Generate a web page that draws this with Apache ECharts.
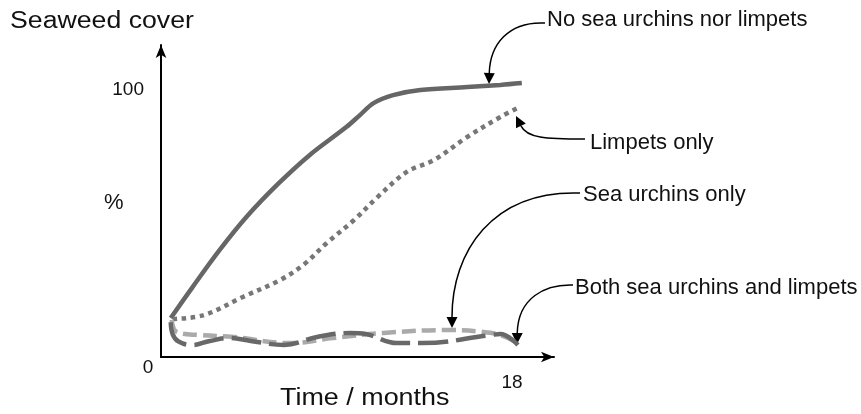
<!DOCTYPE html>
<html>
<head>
<meta charset="utf-8">
<title>Seaweed cover</title>
<script src="https://cdn.jsdelivr.net/npm/echarts@6/dist/echarts.min.js"></script>
<style>
  html, body { margin: 0; padding: 0; background: #fff; }
  #chart { width: 861px; height: 414px; }
</style>
</head>
<body>
<div id="chart"></div>
<script>
// [month, % cover]
const noGrazers = [[0.5, 14.6], [1.6, 26.0], [3.0, 40.0], [4.4, 52.6], [6.0, 64.8], [7.6, 75.5], [9.5, 86.1],
  [10.2, 90.6], [10.9, 95.1], [11.9, 98.1], [13.3, 100.0], [15.7, 101.1], [17.4, 101.9], [18.5, 102.6]];
const limpetsOnly = [[0.6, 14.2], [2.2, 15.7], [4.2, 22.5], [6.1, 28.8], [7.3, 34.5], [8.5, 42.7], [9.9, 51.3],
  [11.1, 59.9], [12.6, 69.3], [14.0, 73.8], [15.7, 82.4], [17.4, 89.9], [18.3, 93.3]];
const urchinsOnly = [[0.55, 13.9], [0.8, 9.4], [2.0, 8.2], [3.7, 7.5], [6.6, 5.2], [8.8, 7.1], [11.4, 9.0],
  [14.8, 10.1], [16.5, 9.4], [17.4, 8.2], [18.3, 5.2]];
const bothGrazers = [[0.5, 13.0], [0.6, 8.5], [0.9, 5.8], [1.6, 4.5], [2.5, 6.0], [3.5, 7.1], [4.6, 6.0], [6.3, 4.5],
  [8.0, 7.5], [9.7, 9.0], [10.5, 8.6], [12.1, 5.2], [13.4, 5.2], [16.9, 8.2], [17.4, 8.6], [18.3, 4.5]];

const xTicks = [18];
const yTicks = [100];
const originLabel = '0';

const seriesNames = ['No sea urchins nor limpets', 'Limpets only', 'Sea urchins only', 'Both sea urchins and limpets'];

const chart = echarts.init(document.getElementById('chart'));
const FONT = 'Liberation Sans, Arial, sans-serif';

// curved annotation arrow: cubic curve + filled head at tip
function arrow(p0, c1, c2, tip) {
  const dx = tip[0] - c2[0], dy = tip[1] - c2[1];
  const len = Math.sqrt(dx * dx + dy * dy);
  const ux = dx / len, uy = dy / len;
  const hl = 11, hw = 5.5;
  const bx = tip[0] - ux * hl, by = tip[1] - uy * hl;
  return [
    {
      type: 'bezierCurve',
      shape: { x1: p0[0], y1: p0[1], cpx1: c1[0], cpy1: c1[1], cpx2: c2[0], cpy2: c2[1], x2: bx, y2: by },
      style: { stroke: '#000', lineWidth: 1.5, fill: null }
    },
    {
      type: 'polygon',
      shape: { points: [tip, [bx - uy * hw, by + ux * hw], [bx + uy * hw, by - ux * hw]] },
      style: { fill: '#000' }
    }
  ];
}

function label(text, x, y, size, scaleX) {
  return {
    type: 'text', x: x, y: y, scaleX: scaleX || 1,
    style: { text: text, x: 0, y: 0, fill: '#111', font: size + 'px ' + FONT, textAlign: 'left', textVerticalAlign: 'middle' }
  };
}

const graphics = [
  label('Seaweed cover', 10, 22, 23, 1.16),
  label('%', 104, 203, 22),
  label('Time / months', 280, 399, 23, 1.17),
  { type: 'text', x: 148, y: 368, style: { text: originLabel, fill: '#111', font: '19px ' + FONT, textAlign: 'center', textVerticalAlign: 'middle' } },
  label(seriesNames[0], 547, 20, 22),
  label(seriesNames[1], 590, 143, 22),
  label(seriesNames[2], 583, 195, 22),
  label(seriesNames[3], 575, 288, 22)
].concat(
  arrow([545, 23], [508, 21], [490, 45], [489, 84]),
  arrow([585, 139], [545, 139], [527, 138], [516, 116]),
  arrow([580, 193], [492, 190], [452, 252], [452, 328]),
  arrow([573, 285], [545, 284], [518, 298], [517, 344])
);

const option = {
  backgroundColor: '#fff',
  animation: false,
  grid: { left: 161, top: 45, right: 307, bottom: 57 },
  xAxis: {
    type: 'value',
    min: 0,
    max: 20.15,
    axisLine: { show: true, symbol: ['none', 'arrow'], symbolSize: [8, 13], lineStyle: { color: '#000', width: 2 } },
    axisTick: { show: false },
    splitLine: { show: false },
    axisLabel: { customValues: xTicks, margin: 16, color: '#111', fontSize: 19, fontFamily: FONT }
  },
  yAxis: {
    type: 'value',
    min: 0,
    max: 116.85,
    axisLine: { show: true, symbol: ['none', 'arrow'], symbolSize: [8, 13], lineStyle: { color: '#000', width: 2 } },
    axisTick: { show: false },
    splitLine: { show: false },
    axisLabel: { customValues: yTicks, margin: 17, color: '#111', fontSize: 19, fontFamily: FONT }
  },
  series: [
    {
      name: seriesNames[0], type: 'line', data: noGrazers, smooth: 0.35, symbol: 'none',
      lineStyle: { color: '#666', width: 4.5, type: 'solid' }
    },
    {
      name: seriesNames[1], type: 'line', data: limpetsOnly, smooth: 0.35, symbol: 'none',
      lineStyle: { color: '#777', width: 4.5, type: [4.5, 4.5], cap: 'butt' }
    },
    {
      name: seriesNames[2], type: 'line', data: urchinsOnly, smooth: 0.4, symbol: 'none',
      lineStyle: { color: '#aaa', width: 4.5, type: [14, 6], cap: 'butt' }
    },
    {
      name: seriesNames[3], type: 'line', data: bothGrazers, smooth: 0.4, symbol: 'none',
      lineStyle: { color: '#686868', width: 4.5, type: [30, 8], cap: 'butt' }
    }
  ],
  graphic: graphics
};

chart.setOption(option);
</script>
</body>
</html>
